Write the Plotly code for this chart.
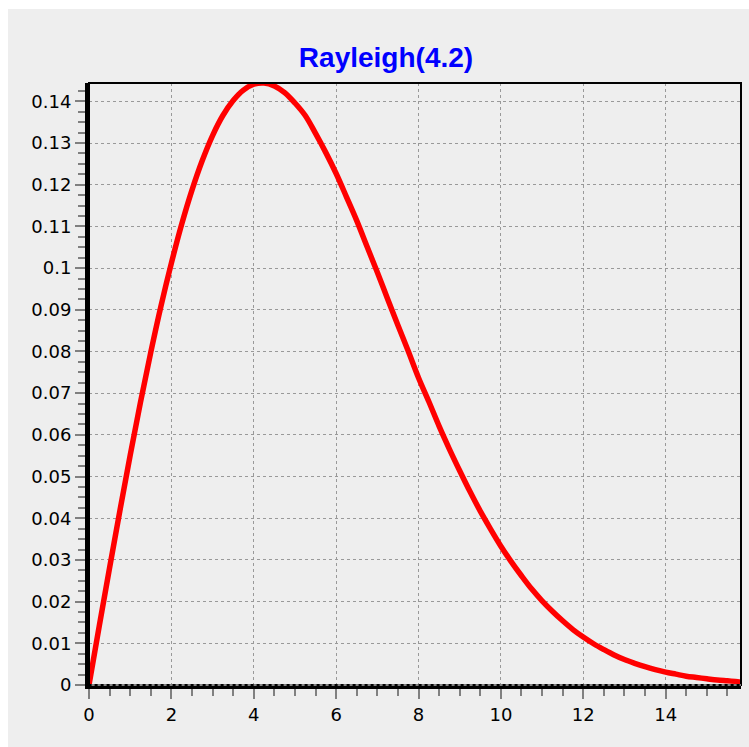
import plotly.graph_objects as go

# Values (Rayleigh(4.2) density)
x_vals = [0, 0.25, 0.5, 0.75, 1, 1.25, 1.5, 1.75, 2, 2.25, 2.5, 2.75, 3, 3.25, 3.5, 3.75,
          4, 4.25, 4.5, 4.75, 5, 5.25, 5.5, 5.75, 6, 6.25, 6.5, 6.75, 7, 7.25, 7.5, 7.75,
          8, 8.25, 8.5, 8.75, 9, 9.25, 9.5, 9.75, 10, 10.25, 10.5, 10.75, 11, 11.25, 11.5, 11.75,
          12, 12.25, 12.5, 12.75, 13, 13.25, 13.5, 13.75, 14, 14.25, 14.5, 14.75, 15, 15.25, 15.5, 15.75, 15.83]
y_vals = [0, 0.0142, 0.0281, 0.0418, 0.0551, 0.0678, 0.0798, 0.0910, 0.1012, 0.1105, 0.1187, 0.1258,
          0.1318, 0.1366, 0.1402, 0.1427, 0.1441, 0.1444, 0.1437, 0.1421, 0.1396, 0.1366, 0.1323, 0.1277,
          0.1227, 0.1171, 0.1114, 0.1052, 0.0990, 0.0926, 0.0863, 0.0801, 0.0737, 0.0680, 0.0621, 0.0566,
          0.0514, 0.0464, 0.0417, 0.0374, 0.0333, 0.0296, 0.0262, 0.0230, 0.0202, 0.0177, 0.0154, 0.0133,
          0.0115, 0.0099, 0.0085, 0.0072, 0.0061, 0.0052, 0.0044, 0.0037, 0.0031, 0.0026, 0.0021, 0.0018,
          0.0015, 0.0012, 0.0010, 0.0008, 0.0007]

title_text = "Rayleigh(4.2)"

W, H = 749, 747
ml, mr, mt, mb = 89, 8, 83, 62
pw, ph = W - ml - mr, H - mt - mb

fig = go.Figure()
fig.add_trace(go.Scatter(x=x_vals, y=y_vals, mode="lines",
                         line=dict(color="#ff0000", width=5.5, shape="spline"),
                         hoverinfo="skip", showlegend=False))

title_font = "Liberation Sans, Arial, Helvetica, sans-serif"
tick_font = "DejaVu Sans, Verdana, sans-serif"

axis_common = dict(
    showgrid=True, gridcolor="#999999", griddash="dot", gridwidth=1,
    showline=True, linecolor="black", linewidth=4, mirror=False,
    ticks="outside", ticklen=10, tickwidth=2, tickcolor="#808080",
    tickfont=dict(family=tick_font, size=18, color="black"),
    zeroline=False,
)

fig.update_layout(
    width=W, height=H,
    margin=dict(l=ml, r=mr, t=mt, b=mb, pad=0),
    paper_bgcolor="white", plot_bgcolor="white",
    title=dict(text="<b>" + title_text + "</b>", x=(386 - ml) / pw, xref="paper", xanchor="center",
               y=1 - 57 / H, yref="container", yanchor="middle",
               font=dict(family=title_font, size=28, color="#0000ff")),
    xaxis=dict(range=[0, 15.83], dtick=2, tick0=0,
               minor=dict(dtick=0.5, ticklen=7, tickwidth=2, tickcolor="#808080", showgrid=False),
               **axis_common),
    yaxis=dict(range=[0, 0.1444], dtick=0.01, tick0=0,
               minor=dict(dtick=0.0025, ticklen=7, tickwidth=2, tickcolor="#808080", showgrid=False),
               **axis_common),
    shapes=[
        # grey panel behind the chart
        dict(type="rect", xref="paper", yref="paper", layer="below",
             x0=(8 - ml) / pw, x1=(W + 2 - ml) / pw, y0=-(mb + 2) / ph, y1=(H - mb - 9) / ph,
             line=dict(width=0), fillcolor="#eeeeee"),
        # thin frame on top/right
        dict(type="rect", xref="paper", yref="paper", layer="above",
             x0=0, x1=1, y0=0, y1=1, line=dict(color="black", width=2)),
        # dotted pattern over the bottom axis line
        dict(type="line", xref="paper", yref="paper", layer="above",
             x0=0.004, x1=1, y0=0, y1=0, line=dict(color="#aaaaaa", width=1.5, dash="dot")),
    ],
)

fig.write_html("out.html")
